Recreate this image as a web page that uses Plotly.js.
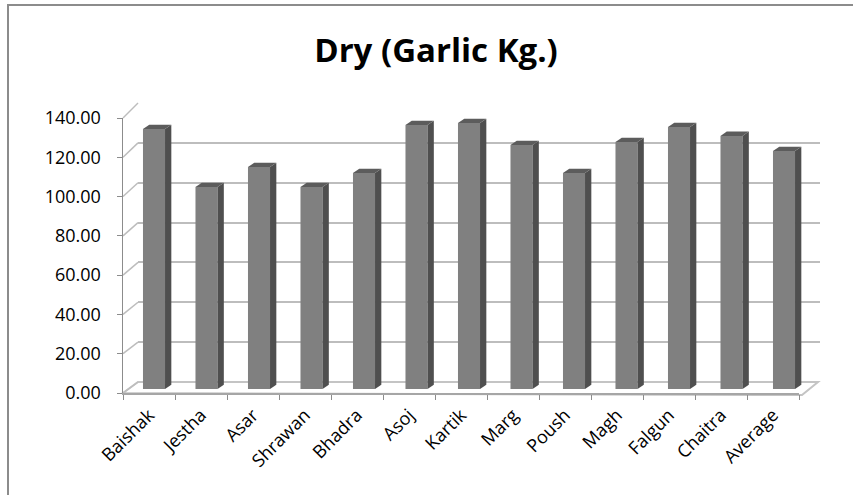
<!DOCTYPE html>
<html>
<head>
<meta charset="utf-8">
<script src="https://cdn.plot.ly/plotly-3.0.1.min.js"></script>
<style>
  html, body { margin: 0; padding: 0; background: #ffffff; overflow: hidden; }
  #frame { position: absolute; left: 7px; top: 4px; width: 900px; height: 600px;
           border-top: 2px solid #8c8c8c; border-left: 2px solid #8c8c8c; }
  #chart { position: absolute; left: 0; top: 0; width: 853px; height: 495px; }
</style>
</head>
<body>
<div id="frame"></div>
<div id="chart"></div>
<script>
// ---- data ----
const categories = ["Baishak", "Jestha", "Asar", "Shrawan", "Bhadra", "Asoj", "Kartik",
                    "Marg", "Poush", "Magh", "Falgun", "Chaitra", "Average"];
const values = [131.3, 102.0, 112.1, 102.0, 109.1, 133.3, 134.3,
                123.2, 109.1, 124.7, 132.3, 127.8, 120.2];
const yTickValues = [0, 20, 40, 60, 80, 100, 120, 140];
const chartTitle = "Dry (Garlic Kg.)";

// ---- layout geometry (pixels in an 853 x 495 page) ----
const W = 853, H = 495;
const px = x => x / W;
const py = y => 1 - y / H;
const yMax = 140;
// back wall
const back = { x0: 138, x1: 820, yb: 382, yt: 103 };
// bar plane
const plane = { x0: 127.75, x1: 810.25, yb: 389, yt: 389 - 140 * 1.98 };
// front axis
const front = { x0: 123, x1: 799, yb: 393, yt: 118 };

const FONT = "'Open Sans', 'Liberation Sans', sans-serif";
const n = categories.length;
const idx = categories.map((c, i) => i);
const barW = 0.42;
const dx = 0.12;   // depth offset in category units
const dy = 2.2;    // depth offset in value units

const traces = [];
// dummy trace for back wall subplot so the axes exist
traces.push({ x: [0], y: [0], xaxis: 'x', yaxis: 'y', mode: 'markers',
              marker: { opacity: 0 }, hoverinfo: 'skip', showlegend: false });

// front faces
traces.push({
  type: 'bar', x: idx, y: values, width: barW, xaxis: 'x2', yaxis: 'y2',
  marker: { color: '#808080', line: { width: 0 } }, showlegend: false,
  hoverinfo: 'skip'
});
// side and top faces, computed from the values
values.forEach((v, i) => {
  const xr = i + barW / 2, xl = i - barW / 2;
  traces.push({
    x: [xr, xr + dx, xr + dx, xr, xr], y: [0, dy, v + dy, v, 0],
    xaxis: 'x2', yaxis: 'y2', mode: 'lines', fill: 'toself',
    fillcolor: '#4f4f4f', line: { width: 0, color: '#4f4f4f' },
    showlegend: false, hoverinfo: 'skip'
  });
  traces.push({
    x: [xl, xl + dx, xr + dx, xr, xl], y: [v, v + dy, v + dy, v, v],
    xaxis: 'x2', yaxis: 'y2', mode: 'lines', fill: 'toself',
    fillcolor: '#5c5c5c', line: { width: 0, color: '#5c5c5c' },
    showlegend: false, hoverinfo: 'skip'
  });
});
// invisible trace on the front axis so categories are placed
traces.push({ x: categories, y: values.map(() => null), xaxis: 'x3', yaxis: 'y3',
              mode: 'markers', showlegend: false, hoverinfo: 'skip' });

// decorative side wall lines and floor
const frontY = t => front.yb - t * (front.yb - front.yt) / yMax;
const backY = t => back.yb - t * (back.yb - back.yt) / yMax;
const shapes = [];
shapes.push({
  type: 'path', xref: 'paper', yref: 'paper', layer: 'below',
  path: `M ${px(123)} ${py(393)} L ${px(802)} ${py(395)} L ${px(818)} ${py(382)} L ${px(138)} ${py(382)} Z`,
  fillcolor: '#ffffff', line: { color: '#c4c4c4', width: 2 }
});
yTickValues.forEach(t => {
  shapes.push({
    type: 'line', xref: 'paper', yref: 'paper', layer: 'below',
    x0: px(front.x0), y0: py(frontY(t)), x1: px(back.x0), y1: py(backY(t)),
    line: { color: '#bdbdbd', width: 1.5 }
  });
});

const layout = {
  width: W, height: H,
  margin: { l: 0, r: 0, t: 0, b: 0 },
  paper_bgcolor: 'rgba(0,0,0,0)',
  plot_bgcolor: 'rgba(0,0,0,0)',
  showlegend: false,
  title: {
    text: chartTitle, x: px(436), y: py(50), xanchor: 'center', yanchor: 'middle',
    xref: 'paper', yref: 'paper',
    font: { family: FONT, size: 33, weight: 700, color: '#000000' }
  },
  // back wall
  xaxis: { domain: [px(back.x0), px(back.x1)], range: [0, 1], visible: false, fixedrange: true },
  yaxis: { domain: [py(back.yb), py(back.yt)], range: [0, yMax], tickvals: yTickValues,
           showgrid: true, gridcolor: '#bdbdbd', gridwidth: 2, zeroline: false,
           showticklabels: false, ticks: '', showline: false, fixedrange: true },
  // bar plane
  xaxis2: { domain: [px(plane.x0), px(plane.x1)], range: [-0.5, n - 0.5], visible: false,
            anchor: 'y2', fixedrange: true },
  yaxis2: { domain: [py(plane.yb), py(plane.yt)], range: [0, yMax], visible: false,
            anchor: 'x2', fixedrange: true },
  // front axis
  xaxis3: { domain: [px(front.x0), px(front.x1)], type: 'category', anchor: 'y3',
            range: [-0.5, n - 0.5], tickson: 'boundaries', ticks: 'outside', ticklen: 5,
            tickcolor: '#8c8c8c', showline: true, linecolor: '#a6a6a6', linewidth: 1.5,
            showgrid: false, zeroline: false, tickangle: -45, ticklabelstandoff: 3,
            tickfont: { family: FONT, size: 18, color: '#000000' }, fixedrange: true },
  yaxis3: { domain: [py(front.yb), py(front.yt)], anchor: 'x3', range: [0, yMax],
            tickvals: yTickValues, ticktext: yTickValues.map(v => v.toFixed(2)),
            ticks: 'outside', ticklen: 5, tickcolor: '#8c8c8c', showline: true,
            linecolor: '#8c8c8c', linewidth: 1.5, showgrid: false, zeroline: false,
            ticklabelstandoff: 12,
            tickfont: { family: FONT, size: 18, color: '#000000' }, fixedrange: true },
  shapes: shapes
};

Plotly.newPlot('chart', traces, layout, { staticPlot: true, displayModeBar: false });
</script>
</body>
</html>
